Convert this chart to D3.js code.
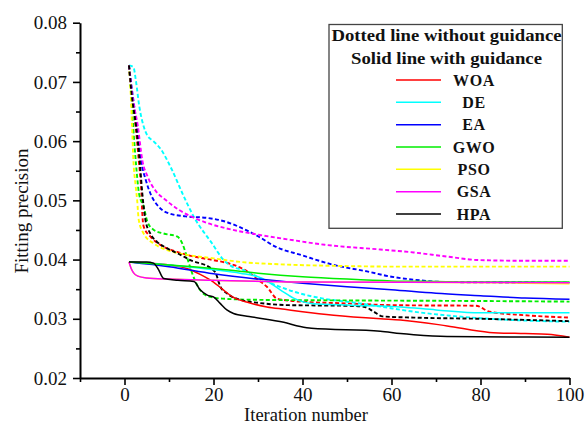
<!DOCTYPE html>
<html>
<head>
<meta charset="utf-8">
<script src="https://cdn.jsdelivr.net/npm/d3@7"></script>
<style>
  html, body { margin: 0; padding: 0; background: #fff; }
  svg { display: block; }
  text { font-family: "Liberation Serif", "Times New Roman", serif; fill: #111; }
</style>
</head>
<body>
<svg id="chart" width="587" height="423"></svg>
<script>
// Convergence curves: fitting precision per iteration, [iteration, value]
// Dotted: without guidance
const woaDotted = [[1,0.0728],[1.6,0.068],[2.5,0.0625],[3.2,0.0568],[3.8,0.0512],[4.0,0.0478],[4.3,0.0456],[5.8,0.0439],[8,0.0425],[11.8,0.0413],[17,0.0403],[20,0.0399],[24.5,0.0391],[28,0.0378],[30,0.0366],[32,0.0354],[34.3,0.0334],[39.5,0.0329],[50,0.0326],[60,0.0323],[79,0.0322],[82,0.0312],[90,0.0306],[100,0.0302]];
const deDotted  = [[1,0.0728],[2,0.0725],[2.6,0.070],[3.3,0.066],[4.3,0.0625],[5.1,0.061],[6.5,0.0600],[8,0.0588],[10.7,0.0551],[13,0.0512],[15.6,0.0472],[19.7,0.0427],[22.3,0.0399],[24,0.0389],[26.8,0.0382],[32,0.0363],[38,0.0346],[44.7,0.0334],[52,0.0327],[58,0.0320],[65,0.0312],[72,0.0306],[80,0.0301],[90,0.0297],[100,0.0295]];
const eaDotted  = [[1,0.0728],[1.8,0.068],[2.8,0.0625],[3.7,0.0568],[4.8,0.0534],[5.8,0.0512],[7.7,0.0489],[10,0.0478],[13.7,0.0473],[18.9,0.0470],[22.7,0.0464],[26.4,0.0453],[30.1,0.0439],[33.9,0.0422],[40,0.0407],[47,0.0391],[54.5,0.0380],[60,0.0371],[65,0.0366],[72.5,0.0362],[100,0.0361]];
const gwoDotted = [[1,0.0728],[1.5,0.068],[2.0,0.062],[2.6,0.056],[3.3,0.051],[4.3,0.049],[5.1,0.0465],[6.6,0.0450],[8.8,0.0444],[11.8,0.0439],[13,0.0427],[14,0.0405],[15.2,0.0377],[16.7,0.0352],[18,0.0341],[19.3,0.0337],[22,0.0334],[30,0.0332],[50,0.0331],[80,0.0330],[100,0.0329]];
const psoDotted = [[1,0.0728],[1.4,0.068],[1.7,0.0625],[2.0,0.0568],[2.5,0.0525],[2.85,0.0500],[3.2,0.0467],[4.3,0.0444],[6.6,0.0427],[9.6,0.0416],[14,0.0408],[20,0.0402],[26,0.0396],[35,0.0392],[50,0.0389],[62,0.0388],[100,0.0388]];
const gsaDotted = [[1,0.0728],[1.7,0.068],[3,0.0625],[4,0.0568],[5.2,0.0540],[7,0.0516],[9.2,0.0501],[12.2,0.0484],[15.2,0.0472],[18.9,0.0461],[22.7,0.0453],[30.1,0.0442],[37.6,0.0433],[45,0.0425],[57.5,0.0417],[65,0.0412],[72.5,0.0405],[80,0.0399],[90,0.0398],[100,0.0398]];
const hpaDotted = [[1,0.0728],[1.6,0.068],[2.6,0.0625],[3.4,0.0568],[4.0,0.0512],[4.7,0.0467],[5.8,0.0444],[7.3,0.0430],[9.6,0.0419],[12.6,0.0408],[14.8,0.0399],[19.3,0.0386],[20.5,0.0377],[21.5,0.0355],[23,0.0343],[26,0.0332],[30,0.0327],[37,0.0323],[50,0.0322],[54,0.0320],[56,0.0312],[58,0.0304],[65,0.0302],[80,0.0300],[100,0.0296]];

// Solid: with guidance
const woaSolid = [[1,0.0396],[5,0.0394],[10,0.0391],[14,0.0385],[17,0.0375],[20,0.0362],[22,0.0350],[24.5,0.0336],[28,0.0327],[32,0.0320],[36,0.0316],[40,0.0312],[47,0.0306],[57.5,0.0300],[62,0.0298],[72.5,0.0288],[82,0.0277],[90,0.0275],[95,0.0274],[100,0.0269]];
const deSolid  = [[1,0.0396],[10,0.0391],[20,0.0383],[26,0.0377],[31,0.0368],[35,0.0349],[38,0.0335],[42,0.0326],[51,0.0323],[62,0.0320],[70,0.0315],[80,0.0310],[100,0.0310]];
const eaSolid  = [[1,0.0396],[10,0.0388],[20,0.0376],[30,0.0367],[40,0.0360],[50,0.0354],[60,0.0349],[70,0.0343],[80,0.0339],[90,0.0335],[100,0.0333]];
const gwoSolid = [[1,0.0396],[10,0.0391],[20,0.0385],[30,0.0377],[40,0.0371],[50,0.0367],[60,0.0364],[70,0.0363],[80,0.0362],[100,0.0362]];
const psoSolid = [[1,0.0396],[1.5,0.0385],[2.0,0.0378],[3,0.0372],[5,0.0369],[10,0.0367],[20,0.0365],[40,0.0362],[85,0.0361],[90,0.0360],[100,0.0359]];
const gsaSolid = [[1,0.0396],[1.5,0.0385],[2.0,0.0378],[3,0.0372],[5,0.0369],[10,0.0367],[20,0.0365],[40,0.0362],[100,0.0361]];
const hpaSolid = [[1,0.0396],[5,0.0396],[6.5,0.0394],[7.5,0.0385],[8.8,0.0368],[12,0.0365],[15.6,0.0363],[17,0.0349],[18.6,0.0340],[20,0.0337],[21.5,0.0326],[23,0.0315],[24.5,0.0309],[28,0.0304],[35.8,0.0294],[39.5,0.0287],[42,0.0284],[57.5,0.0279],[62,0.0275],[65,0.0273],[72.5,0.0270],[100,0.0269]];

const algorithms = ["WOA", "DE", "EA", "GWO", "PSO", "GSA", "HPA"];
const colors = ["#ff0000", "#00ffff", "#0000ff", "#00ee00", "#ffff00", "#ff00ff", "#000000"];
const dottedSeries = [woaDotted, deDotted, eaDotted, gwoDotted, psoDotted, gsaDotted, hpaDotted];
const solidSeries = [woaSolid, deSolid, eaSolid, gwoSolid, psoSolid, gsaSolid, hpaSolid];

const xTicks = [0, 20, 40, 60, 80, 100];
const yTicks = [0.02, 0.03, 0.04, 0.05, 0.06, 0.07, 0.08];
const legendHeader = ["Dotted line without guidance", "Solid line with guidance"];

const svg = d3.select("#chart");
const x = d3.scaleLinear().domain([-10, 100]).range([80, 569.5]);
const y = d3.scaleLinear().domain([0.02, 0.08]).range([378, 22.7]);

const line = d3.line()
  .x(d => x(d[0]))
  .y(d => y(d[1]))
  .curve(d3.curveMonotoneX);

// Curves
const plot = svg.append("g");
dottedSeries.forEach((s, i) => {
  plot.append("path").attr("d", line(s))
    .attr("fill", "none").attr("stroke", colors[i])
    .attr("stroke-width", 1.9).attr("stroke-dasharray", "4,2.4");
});
solidSeries.forEach((s, i) => {
  plot.append("path").attr("d", line(s))
    .attr("fill", "none").attr("stroke", colors[i])
    .attr("stroke-width", 1.5);
});

// Axes
const fmtY = d3.format(".2f");
const yAxis = svg.append("g").attr("transform", "translate(80,0)")
  .call(d3.axisLeft(y).tickValues(yTicks).tickFormat(fmtY).tickSize(7).tickSizeOuter(0).tickPadding(6));
const yMinor = svg.append("g").attr("transform", "translate(80,0)")
  .call(d3.axisLeft(y).tickValues(d3.range(0.025, 0.08, 0.01)).tickFormat("").tickSize(4));
const xAxis = svg.append("g").attr("transform", "translate(0,378)")
  .call(d3.axisBottom(x).tickValues(xTicks).tickFormat(d3.format("d")).tickSize(7).tickSizeOuter(0).tickPadding(3));
const xMinor = svg.append("g").attr("transform", "translate(0,378)")
  .call(d3.axisBottom(x).tickValues([-10, 10, 30, 50, 70, 90]).tickFormat("").tickSize(4));

[yAxis, yMinor, xAxis, xMinor].forEach(g => {
  g.attr("font-family", null);
  g.select(".domain").attr("stroke", "#000").attr("stroke-width", 2);
  g.selectAll(".tick line").attr("stroke", "#000").attr("stroke-width", 1.6);
  g.selectAll(".tick text").attr("font-size", 19).attr("fill", "#111");
});
yMinor.select(".domain").remove();
xMinor.select(".domain").remove();

// Axis titles
svg.append("text")
  .attr("transform", "translate(28,211) rotate(-90)")
  .attr("text-anchor", "middle")
  .attr("font-size", 19)
  .text("Fitting precision");
svg.append("text")
  .attr("x", 306).attr("y", 420.5)
  .attr("text-anchor", "middle")
  .attr("font-size", 18.5)
  .text("Iteration number");

// Legend
const legend = svg.append("g");
legend.append("rect")
  .attr("x", 329).attr("y", 24.5).attr("width", 233.3).attr("height", 203.8)
  .attr("fill", "#fff").attr("stroke", "#444").attr("stroke-width", 1.3);
const headerWidths = [230, 191];
legendHeader.forEach((t, i) => {
  legend.append("text")
    .attr("x", 446.5).attr("y", [35, 58][i]).attr("dy", "0.35em")
    .attr("text-anchor", "middle")
    .attr("font-size", 16).attr("font-weight", "bold")
    .attr("textLength", headerWidths[i]).attr("lengthAdjust", "spacingAndGlyphs")
    .text(t);
});
const rowY = d3.scaleLinear().domain([0, 6]).range([80, 214]);
algorithms.forEach((name, i) => {
  legend.append("line")
    .attr("x1", 396).attr("x2", 441)
    .attr("y1", rowY(i)).attr("y2", rowY(i))
    .attr("stroke", colors[i]).attr("stroke-width", 1.5);
  legend.append("text")
    .attr("x", 474).attr("y", rowY(i)).attr("dy", "0.35em")
    .attr("text-anchor", "middle")
    .attr("font-size", 16).attr("font-weight", "bold")
    .attr("letter-spacing", 0.6)
    .text(name);
});
</script>
</body>
</html>
